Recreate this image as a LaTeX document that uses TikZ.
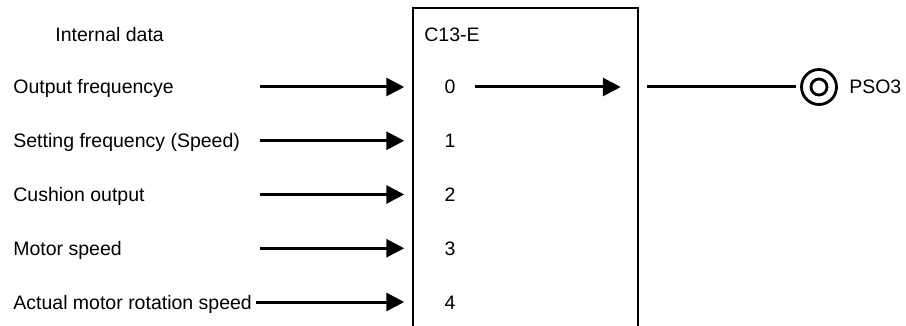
\documentclass[tikz,border=0pt]{standalone}
\usepackage{fontspec}
\setmainfont{Liberation Sans}
\usetikzlibrary{arrows.meta,positioning}

\tikzset{
  lbl/.style={inner sep=0pt, anchor=base west, font=\fontsize{9.75}{11.7}\selectfont},
  num/.style={inner sep=0pt, anchor=base, font=\fontsize{9.75}{11.7}\selectfont},
  sig/.style={line width=1.5pt, -{Triangle[length=9pt, width=9pt]}},
}

\begin{document}
\begin{tikzpicture}[x=0.5pt, y=-0.5pt]
        \useasboundingbox (0,0) rectangle (906,326);

        % Block C13-E (open at the bottom)
        \node[draw, line width=0.75pt, minimum width=112.5pt, minimum height=168pt,
              inner sep=0pt] (box) at (525.5,176) {};
        \node[lbl] (title) at (424,42) {C13-E};
        \node[lbl] (head) at (55,42) {Internal data};

        % Inputs
        \foreach \i/\txt/\xs in {0/Output frequencye/260, 1/Setting frequency (Speed)/260,
                                 2/Cushion output/260, 3/Motor speed/260,
                                 4/Actual motor rotation speed/256} {
          \node[lbl] (in\i) at (13, 94+53.75*\i) {\txt};
          \node[num] (n\i) at (450, 94+53.75*\i) {\i};
          \coordinate (s\i) at (\xs, 87+53.75*\i);
          \draw[sig, shorten >=4pt] (s\i) -- (s\i -| box.west);
        }

        % Output PSO3
        \node[circle, draw, line width=1.4pt, minimum size=17.5pt, inner sep=0pt] (pso) at (819,87) {};
        \node[circle, draw, line width=1.4pt, minimum size=8pt, inner sep=0pt] (psoin) at (pso) {};
        \node[lbl, anchor=west, right=5.5pt of pso] (pname) {PSO3};
        \coordinate (a0) at (475,87);
        \coordinate (o0) at (647,87);
        \draw[sig, shorten >=9pt] (a0) -- (a0 -| box.east);
        \draw[line width=1.5pt, shorten >=2pt] (o0) -- (pso);
      \end{tikzpicture}
\end{document}
